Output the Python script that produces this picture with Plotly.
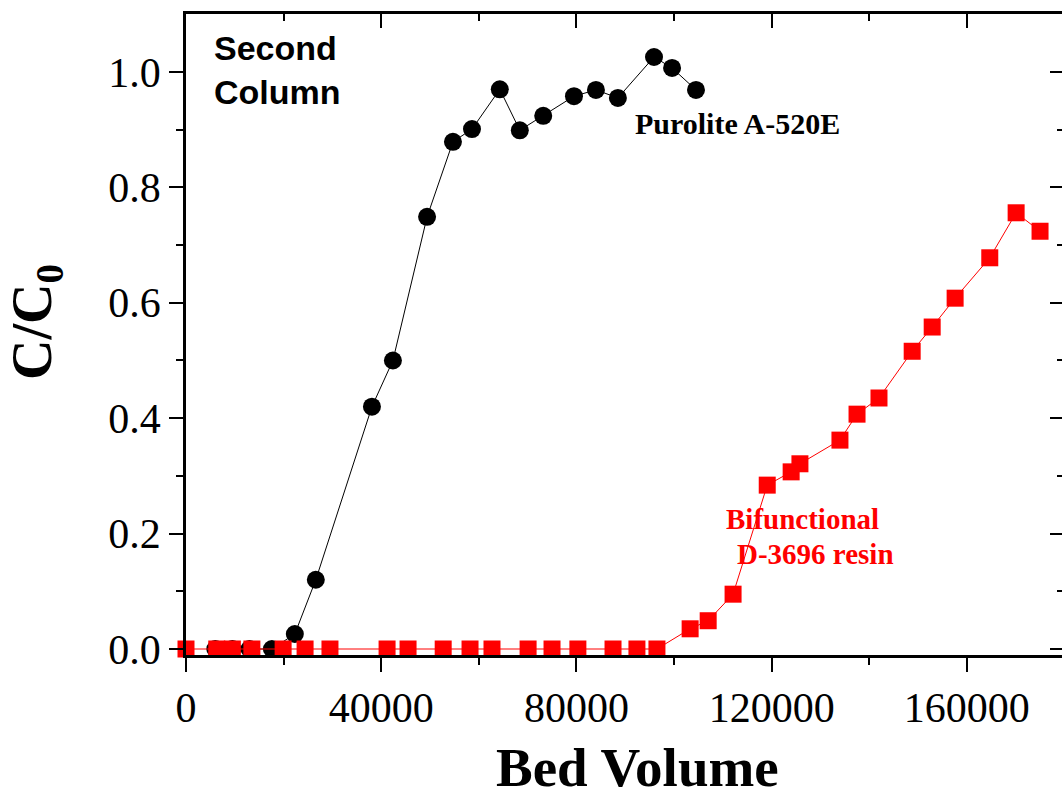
import plotly.graph_objects as go

# Purolite A-520E (black circles)
purolite_bv = [6000, 9500, 13000, 17600, 22300, 26600, 38100, 42400, 49400, 54700,
               58600, 64300, 68400, 73200, 79500, 84000, 88500, 95900, 99600, 104500]
purolite_c = [0.0, 0.0, 0.0, 0.0, 0.026, 0.12, 0.42, 0.50, 0.749, 0.879,
              0.901, 0.970, 0.899, 0.924, 0.958, 0.969, 0.955, 1.026, 1.007, 0.969]

# Bifunctional D-3696 resin (red squares)
d3696_bv = [0, 6300, 9500, 13500, 19900, 24400, 29500, 41200, 45500, 52700, 58200,
            62700, 70100, 75000, 80300, 87500, 92400, 96500, 103300, 107000, 112100,
            119100, 124000, 125800, 134000, 137500, 142000, 148800, 152900, 157600,
            164700, 170100, 175000]
d3696_c = [0.0, 0.0, 0.0, 0.0, 0.0, 0.0, 0.0, 0.0, 0.0, 0.0, 0.0,
           0.0, 0.0, 0.0, 0.0, 0.0, 0.0, 0.0, 0.035, 0.049, 0.095,
           0.284, 0.307, 0.321, 0.362, 0.407, 0.435, 0.516, 0.558, 0.608,
           0.678, 0.756, 0.724]

x_ticks = [0, 40000, 80000, 120000, 160000]
y_ticks = [0.0, 0.2, 0.4, 0.6, 0.8, 1.0]

XR = [0, 179500]
YR = [-0.0104, 1.1005]

serif = "Liberation Serif"
sans = "Liberation Sans"

fig = go.Figure()
fig.add_trace(go.Scatter(
    x=purolite_bv, y=purolite_c, mode="lines+markers",
    line=dict(color="black", width=1),
    marker=dict(symbol="circle", size=18, color="black"),
    cliponaxis=False, showlegend=False))
fig.add_trace(go.Scatter(
    x=d3696_bv, y=d3696_c, mode="lines+markers",
    line=dict(color="red", width=1),
    marker=dict(symbol="square", size=17, color="red"),
    cliponaxis=False, showlegend=False))

# invisible trace to activate mirror axes
fig.add_trace(go.Scatter(x=[None], y=[None], xaxis="x2", yaxis="y2", showlegend=False))

tickfont = dict(family=serif, size=42, color="black")

fig.update_layout(
    width=1062, height=802,
    margin=dict(l=186, r=0, t=14, b=147, autoexpand=False),
    paper_bgcolor="white", plot_bgcolor="white",
    xaxis=dict(range=XR, tickvals=x_ticks, ticktext=[str(v) for v in x_ticks],
               ticks="outside", ticklen=14, tickwidth=2, tickcolor="black",
               showline=True, linewidth=2.5, linecolor="black",
               showgrid=False, zeroline=False, tickfont=tickfont,
               minor=dict(tickvals=[20000, 60000, 100000, 140000], ticks="outside",
                          ticklen=7, tickwidth=2, tickcolor="black", showgrid=False)),
    yaxis=dict(range=YR, tickvals=y_ticks, ticktext=["%.1f" % v for v in y_ticks],
               ticks="outside", ticklen=14, tickwidth=2, tickcolor="black",
               showline=True, linewidth=2.5, linecolor="black",
               showgrid=False, zeroline=False, tickfont=tickfont,
               minor=dict(tickvals=[0.1, 0.3, 0.5, 0.7, 0.9], ticks="outside",
                          ticklen=7, tickwidth=2, tickcolor="black", showgrid=False)),
    xaxis2=dict(range=XR, overlaying="x", side="top", anchor="y",
                tickvals=x_ticks, ticks="inside", ticklen=14, tickwidth=2,
                tickcolor="black", showticklabels=False, showline=True,
                linewidth=2.5, linecolor="black", showgrid=False, zeroline=False,
                minor=dict(tickvals=[20000, 60000, 100000, 140000], ticks="inside",
                           ticklen=7, tickwidth=2, tickcolor="black", showgrid=False)),
    yaxis2=dict(range=YR, overlaying="y", side="right", anchor="x",
                tickvals=y_ticks, ticks="inside", ticklen=12, tickwidth=2,
                tickcolor="black", showticklabels=False, showline=False,
                showgrid=False, zeroline=False,
                minor=dict(tickvals=[0.1, 0.3, 0.5, 0.7, 0.9], ticks="inside",
                           ticklen=5, tickwidth=2, tickcolor="black", showgrid=False)),
)

def px_x(p):
    return (p - 186) / 876.0

def px_y(p):
    return (655 - p) / 641.0

ann = []
ann.append(dict(text="Second<br>Column", xref="paper", yref="paper", x=px_x(212), y=px_y(70),
                xanchor="left", yanchor="middle", align="left", showarrow=False,
                font=dict(family=sans, size=34, color="black", weight="bold")))
ann.append(dict(text="Purolite A-520E", xref="paper", yref="paper", x=px_x(633), y=px_y(123),
                xanchor="left", yanchor="middle", showarrow=False,
                font=dict(family=serif, size=30, color="black", weight="bold")))
ann.append(dict(text="Bifunctional", xref="paper", yref="paper", x=px_x(724), y=px_y(519),
                xanchor="left", yanchor="middle", showarrow=False,
                font=dict(family=serif, size=29, color="red", weight="bold")))
ann.append(dict(text="D-3696 resin", xref="paper", yref="paper", x=px_x(735), y=px_y(554),
                xanchor="left", yanchor="middle", showarrow=False,
                font=dict(family=serif, size=29, color="red", weight="bold")))
ann.append(dict(text="Bed Volume", xref="paper", yref="paper", x=px_x(637), y=px_y(767),
                xanchor="center", yanchor="middle", showarrow=False,
                font=dict(family=serif, size=55, color="black", weight="bold")))
ann.append(dict(text="C/C<sub>0</sub>", xref="paper", yref="paper", x=px_x(36), y=px_y(322),
                xanchor="center", yanchor="middle", showarrow=False, textangle=-90,
                font=dict(family=serif, size=56, color="black", weight="bold")))
fig.update_layout(annotations=ann)

fig.write_html("out.html", config={"displayModeBar": False},
               post_script="document.body.style.margin='0';document.body.style.padding='0';")
